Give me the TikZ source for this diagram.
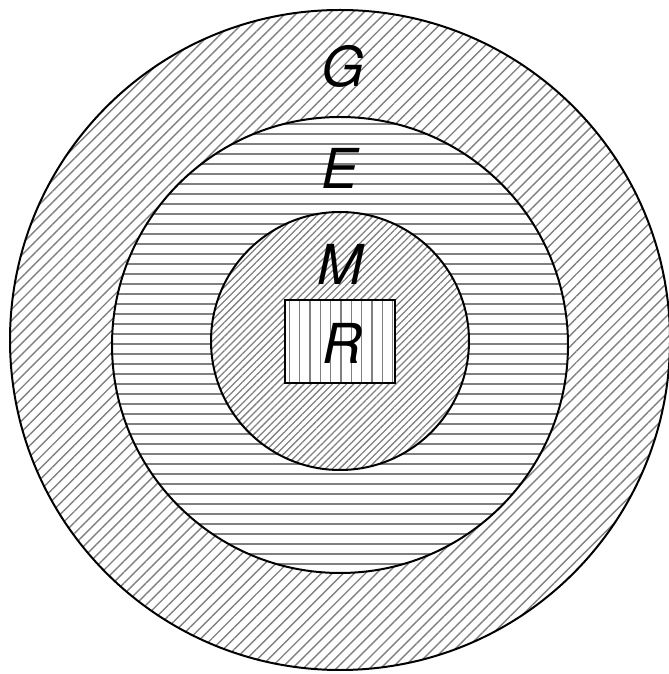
\documentclass[tikz,border=0pt]{standalone}
\usepackage{fontspec}
\setmainfont{TeX Gyre Heros}
\usepackage{tikz}
\usetikzlibrary{patterns.meta}

\begin{document}
\begin{tikzpicture}[x=0.03cm, y=0.03cm,
        ring/.style={draw=black, line width=1.7pt},
        hatchdiag/.style={pattern={Lines[angle=45, distance=0.234cm, line width=1.2pt]}, pattern color=black!50},
        hatchfine/.style={pattern={Lines[angle=45, distance=0.15cm, line width=1.1pt]}, pattern color=black!50},
        hatchhor/.style={pattern={Lines[angle=0, distance=0.3cm, line width=1.2pt]}, pattern color=black!50},
        hatchver/.style={pattern={Lines[angle=90, distance=0.31cm, line width=1.2pt]}, pattern color=black!50},
        setlabel/.style={font=\fontsize{47}{50}\selectfont\itshape, inner sep=0pt}]
        \useasboundingbox (0,0) rectangle (668,674);

        % G ring
        \path[hatchdiag, even odd rule] (340,334) circle[radius=330] (340,329) circle[radius=228];
        % E ring
        \path[hatchhor, even odd rule] (340,329) circle[radius=228] (340,333) circle[radius=129];
        % M disc
        \path[hatchfine, even odd rule] (340,333) circle[radius=129] (285,291) rectangle (395,374);
        % R box
        \fill[white] (285,291) rectangle (395,374);
        \path[hatchver] (285,291) rectangle (395,374);

        % outlines
        \draw[ring] (340,334) circle[radius=330];
        \draw[ring] (340,329) circle[radius=228];
        \draw[ring] (340,333) circle[radius=129];
        \draw[line width=1.3pt] (285,291) rectangle (395,374);

        % labels
        \node[setlabel] (G) at (343,608) {G};
        \node[setlabel] (E) at (340,506) {E};
        \node[setlabel] (M) at (340,410) {M};
        \node[setlabel] (R) at (342,331) {R};
\end{tikzpicture}
\end{document}
